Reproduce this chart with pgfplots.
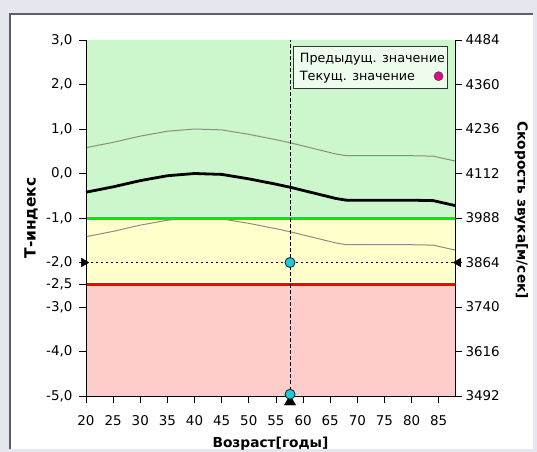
\documentclass[border=0pt]{standalone}
\usepackage{pgfplots}
\pgfplotsset{compat=1.18}
\usepackage{fontspec}
\setmainfont{DejaVu Sans}
\definecolor{bggreen}{RGB}{204,247,204}
\definecolor{bgyellow}{RGB}{255,255,204}
\definecolor{bgred}{RGB}{255,204,204}
\definecolor{limgreen}{RGB}{0,235,0}
\definecolor{limred}{RGB}{255,0,0}
\definecolor{bandgray}{RGB}{140,140,130}
\definecolor{ptcyan}{RGB}{30,200,215}
\definecolor{framebg}{RGB}{228,232,238}
\definecolor{framedark}{RGB}{95,95,95}
\newcommand{\tickfont}{\fontsize{13.5}{15}\selectfont}
\newcommand{\legfont}{\fontsize{12.8}{14}\selectfont}
\newcommand{\labfont}{\fontsize{13.8}{15}\selectfont\bfseries}
\pgfplotsset{
  dotlegend/.style={legend image code/.code={\draw[##1] plot coordinates {(0cm,0cm)};}}
}

\begin{document}
\begin{tikzpicture}
  \fill[framebg] (0,0) rectangle (537bp,452bp);
  \useasboundingbox (0,0) rectangle (537bp,452bp);
  \fill[white] (10bp,3bp) rectangle (533bp,438bp);
  \draw[framedark, line width=2.5bp] (10bp,3bp) -- (10bp,438bp) -- (533bp,438bp);

  \begin{axis}[
    at={(86bp,56bp)}, anchor=south west,
    scale only axis, width=369bp, height=356bp,
    xmin=20, xmax=88, ymin=-5, ymax=3,
    axis x line*=bottom, axis y line*=left,
    axis on top, clip=false,
    tick align=outside, major tick length=7bp,
    every tick/.style={black, line width=0.8bp},
    axis line style={black, line width=0.9bp},
    xtick={20,25,...,85},
    ytick={-5,-4,-3,-2.5,-2,-1,0,1,2,3},
    yticklabels={{-5,0},{-4,0},{-3,0},{-2,5},{-2,0},{-1,0},{0,0},{1,0},{2,0},{3,0}},
    /pgf/number format/assume math mode=true,
    ticklabel style={font=\tickfont},
    xticklabel style={yshift=-9bp},
    yticklabel style={xshift=-3bp},
    xlabel={Возраст[годы]},
    ylabel={Т-индекс},
    xlabel style={font=\labfont, at={(axis description cs:0.5,-0.135)}, anchor=center},
    ylabel style={font=\fontsize{15.5}{17}\selectfont\bfseries, at={(axis description cs:-0.149,0.5)}, anchor=center},
    legend plot pos=right,
    legend cell align=left,
    legend style={font=\legfont, at={(rel axis cs:0.981,0.983)}, anchor=north east,
      draw=black!80, line width=0.9bp, fill=bggreen!35!white, inner sep=4.5bp, row sep=3bp,
      column sep=2bp},
  ]
    \addlegendimage{empty legend}
    \addlegendentry{\rlap{Предыдущ. значение}\phantom{Текущ. значение\hspace*{15bp}}}
    \addlegendimage{dotlegend, only marks, mark=*, mark size=4.5bp, mark options={fill=magenta, draw=black!70, line width=0.6bp}}
    \addlegendentry{Текущ. значение\hspace*{15bp}}

    % zones
    \addplot[forget plot, draw=none, fill=bggreen] coordinates {(20,3) (88,3) (88,-1) (20,-1)} -- cycle;
    \addplot[forget plot, draw=none, fill=bgyellow] coordinates {(20,-1) (88,-1) (88,-2.5) (20,-2.5)} -- cycle;
    \addplot[forget plot, draw=none, fill=bgred] coordinates {(20,-2.5) (88,-2.5) (88,-5) (20,-5)} -- cycle;

    % +-1 SD band
    \addplot[forget plot, bandgray, line width=1bp] coordinates {
      (20,0.58) (25,0.70) (30,0.84) (35,0.95) (40,1.0) (45,0.98) (50,0.88)
      (55,0.76) (58,0.68) (62,0.56) (66,0.44) (68,0.40) (75,0.40) (80,0.40)
      (84,0.39) (88,0.28)};
    \addplot[forget plot, bandgray, line width=1bp] coordinates {
      (20,-1.42) (25,-1.30) (30,-1.16) (35,-1.05) (40,-1.0) (45,-1.02) (50,-1.12)
      (55,-1.24) (58,-1.32) (62,-1.44) (66,-1.56) (68,-1.60) (75,-1.60) (80,-1.60)
      (84,-1.61) (88,-1.72)};
    % mean
    \addplot[forget plot, black, line width=2.8bp] coordinates {
      (20,-0.42) (25,-0.30) (30,-0.16) (35,-0.05) (40,0.0) (45,-0.02) (50,-0.12)
      (55,-0.24) (58,-0.32) (62,-0.44) (66,-0.56) (68,-0.60) (75,-0.60) (80,-0.60)
      (84,-0.61) (88,-0.72)};

    % limits
    \addplot[forget plot, limgreen, line width=3bp] coordinates {(20,-1) (88,-1)};
    \addplot[forget plot, limred, line width=3bp] coordinates {(20,-2.5) (88,-2.5)};

    % cursor lines
    \addplot[forget plot, black, line width=1bp, dash pattern=on 2bp off 3bp] coordinates {(20,-2) (88,-2)};
    \addplot[forget plot, black, line width=1bp, dash pattern=on 3.5bp off 2.5bp] coordinates {(57.6,-5) (57.6,3)};

    % markers
    \addplot[forget plot, only marks, mark=triangle*, mark size=5bp, mark options={black, rotate=-90}] coordinates {(19.6,-2)};
    \addplot[forget plot, only marks, mark=triangle*, mark size=5bp, mark options={black, rotate=90}] coordinates {(88.6,-2)};
    \addplot[forget plot, only marks, mark=triangle*, mark size=6.5bp, mark options={black}] coordinates {(57.6,-5.13)};
    \addplot[forget plot, only marks, mark=*, mark size=5bp, mark options={fill=ptcyan, draw=black!70!teal, line width=0.8bp}] coordinates {(57.6,-2) (57.6,-4.96)};
  \end{axis}

  \begin{axis}[
    at={(86bp,56bp)}, anchor=south west,
    scale only axis, width=369bp, height=356bp,
    xmin=20, xmax=88, ymin=3492, ymax=4484,
    axis x line=none, axis y line*=right,
    tick align=outside, major tick length=7bp,
    every tick/.style={black, line width=0.8bp},
    axis line style={black, line width=0.9bp},
    ytick={3492,3616,3740,3864,3988,4112,4236,4360,4484},
    yticklabels={3492,3616,3740,3864,3988,4112,4236,4360,4484},
    ticklabel style={font=\tickfont},
    ylabel={Скорость звука[м/сек]},
    ylabel style={font=\labfont, at={(axis description cs:1.18,0.522)}, anchor=center, rotate=180},
  ]
    \addplot[draw=none] coordinates {(20,3492) (88,4484)};
  \end{axis}
\end{tikzpicture}
\end{document}
